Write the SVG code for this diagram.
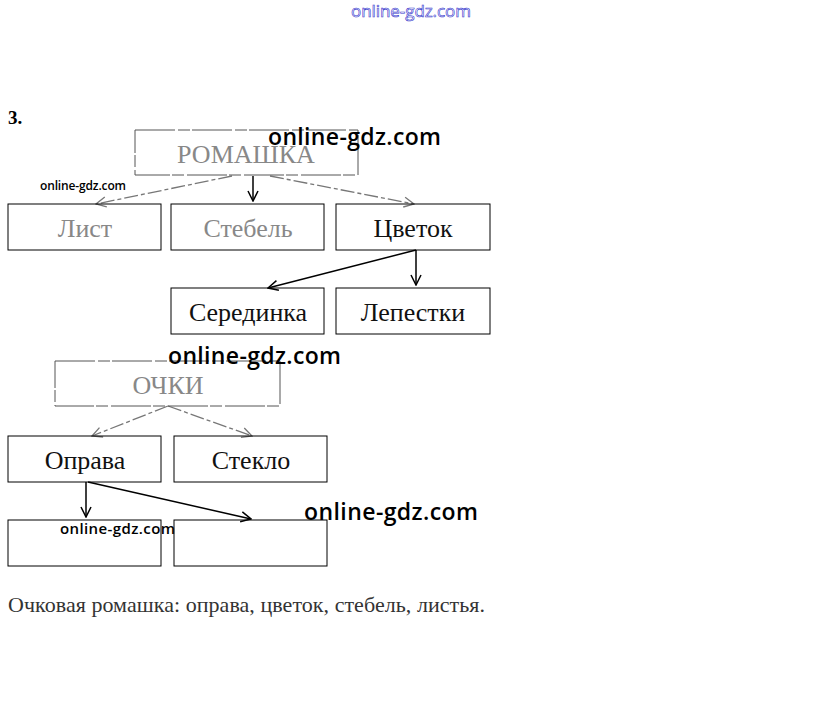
<svg xmlns="http://www.w3.org/2000/svg" width="823" height="720" viewBox="0 0 823 720">
<defs>
<style>
.box{fill:none;stroke:#000;stroke-width:1}
.boxg{fill:none;stroke:#555;stroke-width:1;stroke-dasharray:40 3 12 2}
.t{font-family:"Liberation Serif",serif;font-size:26px;fill:#111;text-anchor:middle}
.tg{font-family:"Liberation Serif",serif;font-size:26px;fill:#888;text-anchor:middle}
.wm{font-family:"Open Sans","Noto Sans",sans-serif;fill:#000;font-weight:600}
.c{fill:none;stroke:#000;stroke-width:1.5}
.cg{fill:none;stroke:#777;stroke-width:1.3;stroke-dasharray:14 3 4 3}
</style>
<marker id="a" viewBox="0 0 12 12" refX="11" refY="6" markerWidth="12" markerHeight="12" markerUnits="userSpaceOnUse" orient="auto"><path d="M1 1 L11 6 L1 11" fill="none" stroke="#000" stroke-width="1.5"/></marker>
<marker id="ag" viewBox="0 0 12 12" refX="11" refY="6" markerWidth="12" markerHeight="12" markerUnits="userSpaceOnUse" orient="auto"><path d="M1 1 L11 6 L1 11" fill="none" stroke="#777" stroke-width="1.3"/></marker>
</defs>
<rect width="823" height="720" fill="#fff"/>
<text x="411" y="17" text-anchor="middle" font-family="Open Sans, Noto Sans, sans-serif" font-size="17" fill="#fff" stroke="#3333cc" stroke-width="0.6" textLength="120">online-gdz.com</text>
<text x="8" y="124" font-family="Liberation Serif, serif" font-size="19" font-weight="bold" fill="#000">3.</text>
<g id="connectors">
<line class="cg" x1="232" y1="176" x2="96" y2="204" marker-end="url(#ag)"/>
<line class="c" x1="253" y1="176" x2="253" y2="201" marker-end="url(#a)"/>
<line class="cg" x1="270" y1="176" x2="414" y2="204" marker-end="url(#ag)"/>
<line class="c" x1="416" y1="250" x2="268" y2="288" marker-end="url(#a)"/>
<line class="c" x1="416" y1="250" x2="416" y2="285" marker-end="url(#a)"/>
<line class="cg" x1="168" y1="406" x2="92" y2="436" marker-end="url(#ag)"/>
<line class="cg" x1="168" y1="406" x2="252" y2="436" marker-end="url(#ag)"/>
<line class="c" x1="86" y1="482" x2="86" y2="517" marker-end="url(#a)"/>
<line class="c" x1="88" y1="482" x2="251" y2="519" marker-end="url(#a)"/>
</g>
<g id="romashka"><rect class="boxg" x="135" y="130" width="223" height="45"/><text class="tg" x="246" y="163">РОМАШКА</text></g>
<g id="list"><rect class="box" x="8" y="204" width="153" height="46"/><text class="tg" x="85" y="237">Лист</text></g>
<g id="stebel"><rect class="box" x="171" y="204" width="153" height="46"/><text class="tg" x="248" y="237">Стебель</text></g>
<g id="cvetok"><rect class="box" x="336" y="204" width="154" height="46"/><text class="t" x="413" y="237">Цветок</text></g>
<g id="seredinka"><rect class="box" x="171" y="288" width="153" height="46"/><text class="t" x="248" y="321">Серединка</text></g>
<g id="lepestki"><rect class="box" x="336" y="288" width="154" height="46"/><text class="t" x="413" y="321">Лепестки</text></g>
<g id="ochki"><rect class="boxg" x="55" y="361" width="225" height="45"/><text class="tg" x="168" y="394">ОЧКИ</text></g>
<g id="oprava"><rect class="box" x="8" y="436" width="153" height="46"/><text class="t" x="85" y="469">Оправа</text></g>
<g id="steklo"><rect class="box" x="174" y="436" width="153" height="46"/><text class="t" x="251" y="469">Стекло</text></g>
<g id="empty1"><rect class="box" x="8" y="520" width="153" height="46"/></g>
<g id="empty2"><rect class="box" x="174" y="520" width="153" height="46"/></g>
<text x="8" y="612" font-family="Liberation Serif, serif" font-size="22" fill="#333" textLength="477">Очковая ромашка: оправа, цветок, стебель, листья.</text>
<text class="wm" x="268" y="145" font-size="23" textLength="173">online-gdz.com</text>
<text class="wm" x="40" y="190" font-size="12" textLength="86">online-gdz.com</text>
<text class="wm" x="168" y="364" font-size="23" textLength="173">online-gdz.com</text>
<text class="wm" x="304" y="520" font-size="23" textLength="174">online-gdz.com</text>
<text class="wm" x="60" y="534" font-size="15" textLength="115">online-gdz.com</text>
</svg>
